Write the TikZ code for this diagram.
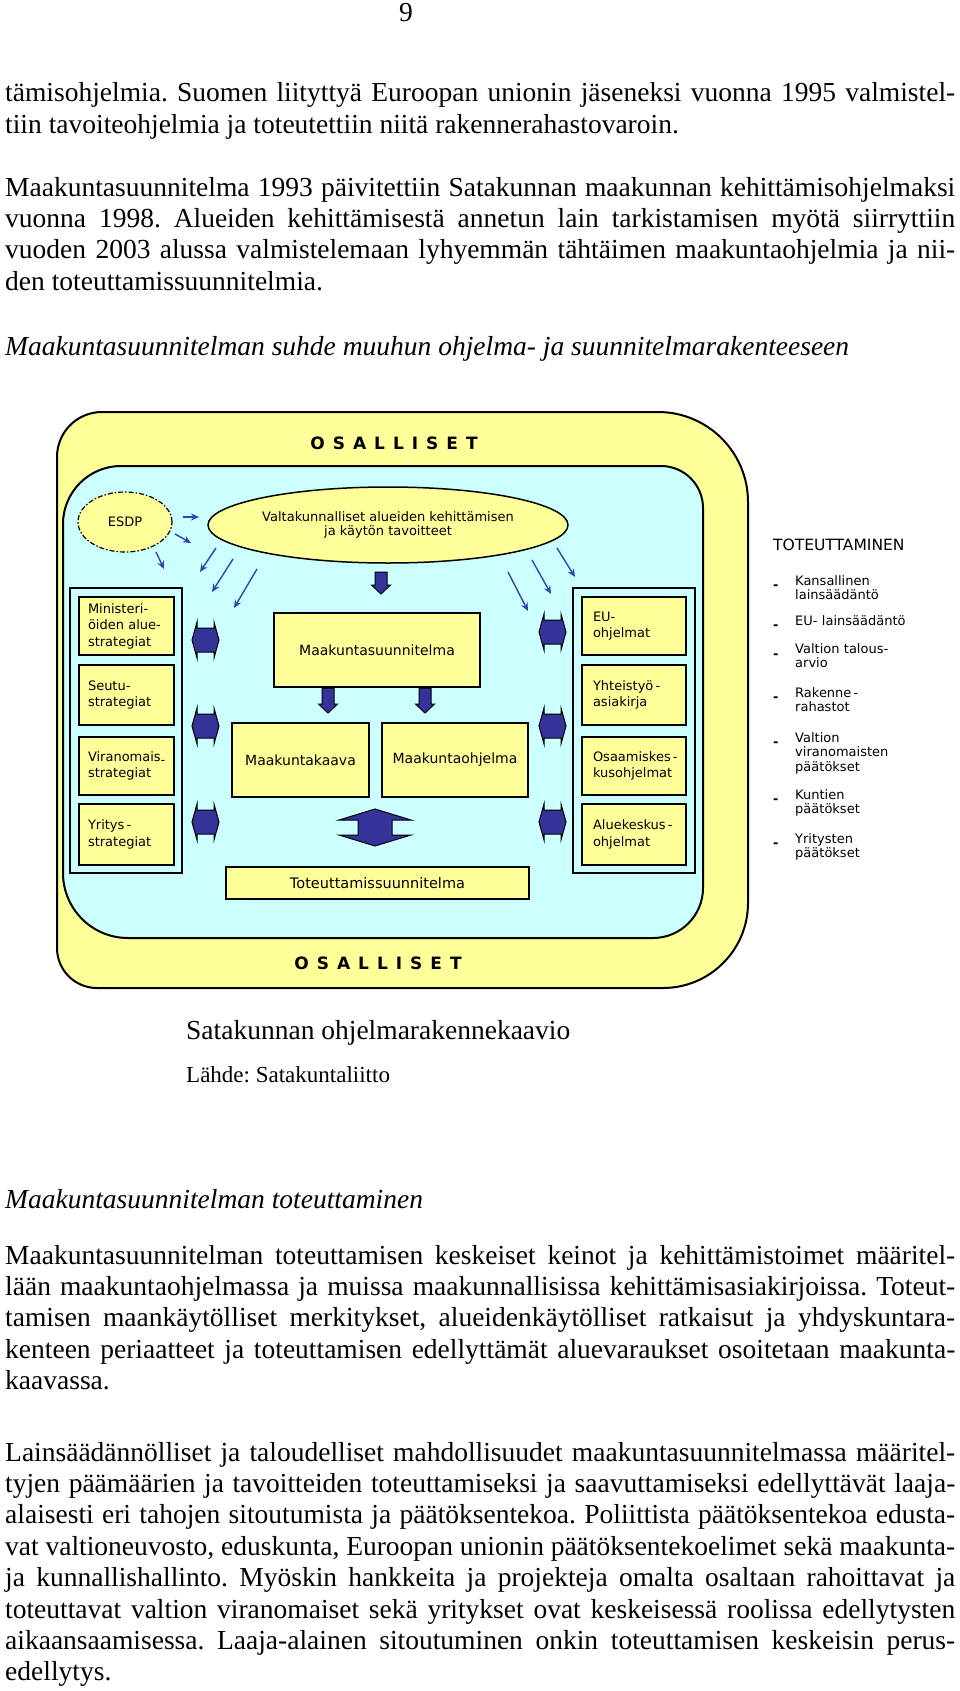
\documentclass[tikz,border=0pt]{standalone}
\usepackage{fontspec}
\setmainfont{Liberation Serif}
\newfontfamily\dvs{DejaVu Sans}
\usetikzlibrary{arrows.meta,shapes.geometric}
\definecolor{py}{RGB}{255,255,153}
\definecolor{pc}{RGB}{204,255,255}
\definecolor{db}{RGB}{51,51,153}
\definecolor{ab}{RGB}{51,68,170}
\frenchspacing
\newcommand\jl[1]{\hbox to 950pt{#1}}
\newcommand\nl[1]{\hbox{#1}}
\newcommand\osal{O\hspace{8pt}S\hspace{8pt}A\hspace{8pt}L\hspace{8pt}L\hspace{8pt}I\hspace{8pt}S\hspace{8pt}E\hspace{8pt}T}
\newcommand\myLR[2]{\draw[dbshape,shift={(#1,#2)}] (0,0) -- (5,-18) -- (5,-12) -- (22,-12) -- (22,-18) -- (27,0) -- (22,18) -- (22,12) -- (5,12) -- (5,18) -- cycle;}
\newcommand\myDown[4]{\draw[dbshape] (#1-6,#2) -- (#1+6,#2) -- (#1+6,#3) -- (#1+9.5,#3) -- (#1,#4) -- (#1-9.5,#3) -- (#1-6,#3) -- cycle;}
\begin{document}
\begin{tikzpicture}[x=1pt,y=-1pt,
  para/.style={anchor=base west, inner sep=0pt, font=\fontsize{27.5}{31.4}\selectfont},
  dbshape/.style={draw=black, line width=1pt, fill=db},
  tarr/.style={draw=ab, line width=1.4pt, -{Stealth[length=8pt,width=7pt]}},
  colbox/.style={draw=black, line width=1.3pt, fill=pc, inner sep=0pt},
  lbox/.style={draw=black, line width=1.6pt, fill=py, inner xsep=9pt, inner ysep=0pt, text width=77pt, align=left, minimum width=95pt, font=\dvs\fontsize{13}{16.5}\selectfont},
  rbox/.style={draw=black, line width=1.6pt, fill=py, inner xsep=11pt, inner ysep=0pt, text width=82pt, align=left, minimum width=104pt, font=\dvs\fontsize{13}{16.5}\selectfont},
  cbox/.style={draw=black, line width=1.6pt, fill=py, inner sep=0pt, font=\dvs\fontsize{14}{17}\selectfont},
  item/.style={anchor=base west, inner sep=0pt, text width=130pt, align=left, font=\dvs\fontsize{13}{14.5}\selectfont},
  dashn/.style={anchor=base west, inner sep=0pt, font=\dvs\fontsize{13}{14.5}\selectfont},
  osl/.style={inner sep=0pt, font=\dvs\bfseries\fontsize{17}{20}\selectfont}]
\fill[white] (0,0) rectangle (960,1691);
\useasboundingbox (0,0) rectangle (960,1691);

% page number and text
\node[anchor=base, inner sep=0pt, font=\fontsize{27.5}{31.4}\selectfont] (pg) at (406,22) {9};
\node[para] (p1) at (5,102) {\vtop{%
\jl{tämisohjelmia. Suomen liityttyä Euroopan unionin jäseneksi vuonna 1995 valmistel-}%
\nl{tiin tavoiteohjelmia ja toteutettiin niitä rakennerahastovaroin.}}};
\node[para] (p2) at (5,196) {\vtop{%
\jl{Maakuntasuunnitelma 1993 päivitettiin Satakunnan maakunnan kehittämisohjelmaksi}%
\jl{vuonna 1998. Alueiden kehittämisestä annetun lain tarkistamisen myötä siirryttiin}%
\jl{vuoden 2003 alussa valmistelemaan lyhyemmän tähtäimen maakuntaohjelmia ja nii-}%
\nl{den toteuttamissuunnitelmia.}}};
\node[para, font=\itshape\fontsize{27.5}{31.4}\selectfont] (h1) at (5,355) {Maakuntasuunnitelman suhde muuhun ohjelma- ja suunnitelmarakenteeseen};

% outer and inner frames
\draw[line width=2pt, fill=py] (57,457) .. controls (57,432.1) and (77.1,412) .. (102,412) -- (658,412)
  .. controls (707.7,412) and (748,452.3) .. (748,502) -- (748,903)
  .. controls (748,949.9) and (709.9,988) .. (663,988) -- (97,988)
  .. controls (74.9,988) and (57,970.1) .. (57,948) -- cycle;
\draw[line width=2pt, fill=pc] (63,524) .. controls (63,492) and (89,466) .. (121,466) -- (661,466)
  .. controls (684.2,466) and (703,484.8) .. (703,508) -- (703,888)
  .. controls (703,915.6) and (680.6,938) .. (653,938) -- (128,938)
  .. controls (92.1,938) and (63,908.9) .. (63,873) -- cycle;

\node[osl] (os1) at (394,443) {\osal};
\node[osl] (os2) at (378,963) {\osal};

% ellipses
\node[ellipse, draw=black, line width=1.2pt, dash pattern=on 5pt off 2pt on 1.5pt off 2pt, fill=py, minimum width=94pt, minimum height=60pt, inner sep=0pt, font=\dvs\fontsize{13}{15}\selectfont] (esdp) at (125,522) {ESDP};
\node[ellipse, draw=black, line width=1.5pt, fill=py, minimum width=360pt, minimum height=76pt, inner sep=0pt, align=center, font=\dvs\fontsize{13}{14.5}\selectfont] (valt) at (388,525) {Valtakunnalliset alueiden kehittämisen\\ja käytön tavoitteet};

% columns
\node[colbox, minimum width=112pt, minimum height=285pt] (lcol) at (126,730.5) {};
\node[colbox, minimum width=122pt, minimum height=285pt] (rcol) at (634,730.5) {};

\node[lbox, minimum height=58pt] (min) at (126.5,626) {Ministeri-\\öiden alue-\\strategiat};
\node[lbox, minimum height=60pt] (seu) at (126.5,695) {Seutu-\\strategiat};
\node[lbox, minimum height=58pt] (vir) at (126.5,766) {Viranomais\raisebox{-3pt}{-}\\strategiat};
\node[lbox, minimum height=61pt] (yri) at (126.5,834.5) {\mbox{Yritys\,-}\\strategiat};

\node[rbox, minimum height=58pt] (eu) at (634,626) {EU-\\ohjelmat};
\node[rbox, minimum height=60pt] (yht) at (634,695) {\mbox{Yhteistyö\,-}\\asiakirja};
\node[rbox, minimum height=58pt] (osa) at (634,766) {\mbox{Osaamiskes\,-}\\kusohjelmat};
\node[rbox, minimum height=61pt] (alu) at (634,834.5) {\mbox{Aluekeskus\,-}\\ohjelmat};

% center boxes
\node[cbox, minimum width=206pt, minimum height=74pt] (msu) at (377,650) {Maakuntasuunnitelma};
\node[cbox, minimum width=137pt, minimum height=74pt] (mkk) at (300.5,760) {Maakuntakaava};
\node[cbox, minimum width=146pt, minimum height=74pt] (mko) at (455,760) {Maakuntaohjelma};
\node[cbox, minimum width=303pt, minimum height=32pt, font=\dvs\fontsize{14.5}{17}\selectfont] (tot) at (377.5,883) {Toteuttamissuunnitelma};

% block arrows
\myLR{192}{640}
\myLR{192}{726}
\myLR{192}{822}
\myLR{539}{632}
\myLR{539}{726}
\myLR{539}{822}
\myDown{381}{572}{585}{594}
\myDown{328}{688}{704}{713}
\myDown{425}{688}{704}{713}
\draw[dbshape] (375,809) -- (411,820) -- (392,820) -- (392,835) -- (411,835) -- (375,846) -- (339,835) -- (358,835) -- (358,820) -- (339,820) -- cycle;

% thin arrows
\coordinate (a1s) at (183,517); \coordinate (a1e) at (199,517);
\coordinate (a2s) at (175,534); \coordinate (a2e) at (191,543);
\coordinate (a3s) at (156,552); \coordinate (a3e) at (164,569);
\coordinate (b1s) at (216,548); \coordinate (b1e) at (200,572);
\coordinate (b2s) at (233,559); \coordinate (b2e) at (212,592);
\coordinate (b3s) at (257,569); \coordinate (b3e) at (234,608);
\coordinate (c1s) at (557,548); \coordinate (c1e) at (575,577);
\coordinate (c2s) at (532,560); \coordinate (c2e) at (551,594);
\coordinate (c3s) at (508,572); \coordinate (c3e) at (528,611);
\foreach \n in {a1,a2,a3,b1,b2,b3,c1,c2,c3} {\draw[tarr] (\n s) -- (\n e);}

% TOTEUTTAMINEN list
\node[dashn, font=\dvs\fontsize{15.5}{17}\selectfont] (tth) at (773,550) {TOTEUTTAMINEN};
\node[item] (t1) at (795,585) {Kansallinen\\lainsäädäntö};
\node[item] (t2) at (795,625) {EU- lainsäädäntö};
\node[item] (t3) at (795,653) {Valtion talous-\\arvio};
\node[item] (t4) at (795,697) {Rakenne\,-\\rahastot};
\node[item] (t5) at (795,742) {Valtion\\viranomaisten\\päätökset};
\node[item] (t6) at (795,799) {Kuntien\\päätökset};
\node[item] (t7) at (795,843) {Yritysten\\päätökset};
\foreach \y/\n in {589/d1,629/d2,658/d3,701/d4,746/d5,803/d6,847/d7} {\node[dashn, font=\dvs\bfseries\fontsize{13}{14.5}\selectfont] (\n) at (773,\y) {-};}

% captions
\node[para] (cap) at (186,1039) {Satakunnan ohjelmarakennekaavio};
\node[para, font=\fontsize{23}{27}\selectfont] (src) at (186,1082) {Lähde: Satakuntaliitto};
\node[para, font=\itshape\fontsize{27.5}{31.4}\selectfont] (h2) at (5,1208) {Maakuntasuunnitelman toteuttaminen};

\node[para] (p3) at (5,1264) {\vtop{%
\jl{Maakuntasuunnitelman toteuttamisen keskeiset keinot ja kehittämistoimet määritel-}%
\jl{lään maakuntaohjelmassa ja muissa maakunnallisissa kehittämisasiakirjoissa. Toteut-}%
\jl{tamisen maankäytölliset merkitykset, alueidenkäytölliset ratkaisut ja yhdyskuntara-}%
\jl{kenteen periaatteet ja toteuttamisen edellyttämät aluevaraukset osoitetaan maakunta-}%
\nl{kaavassa.}}};
\node[para] (p4) at (5,1461) {\vtop{%
\jl{Lainsäädännölliset ja taloudelliset mahdollisuudet maakuntasuunnitelmassa määritel-}%
\jl{tyjen päämäärien ja tavoitteiden toteuttamiseksi ja saavuttamiseksi edellyttävät laaja-}%
\jl{alaisesti eri tahojen sitoutumista ja päätöksentekoa. Poliittista päätöksentekoa edusta-}%
\jl{vat valtioneuvosto, eduskunta, Euroopan unionin päätöksentekoelimet sekä maakunta-}%
\jl{ja kunnallishallinto. Myöskin hankkeita ja projekteja omalta osaltaan rahoittavat ja}%
\jl{toteuttavat valtion viranomaiset sekä yritykset ovat keskeisessä roolissa edellytysten}%
\jl{aikaansaamisessa. Laaja-alainen sitoutuminen onkin toteuttamisen keskeisin perus-}%
\nl{edellytys.}}};
\end{tikzpicture}
\end{document}
